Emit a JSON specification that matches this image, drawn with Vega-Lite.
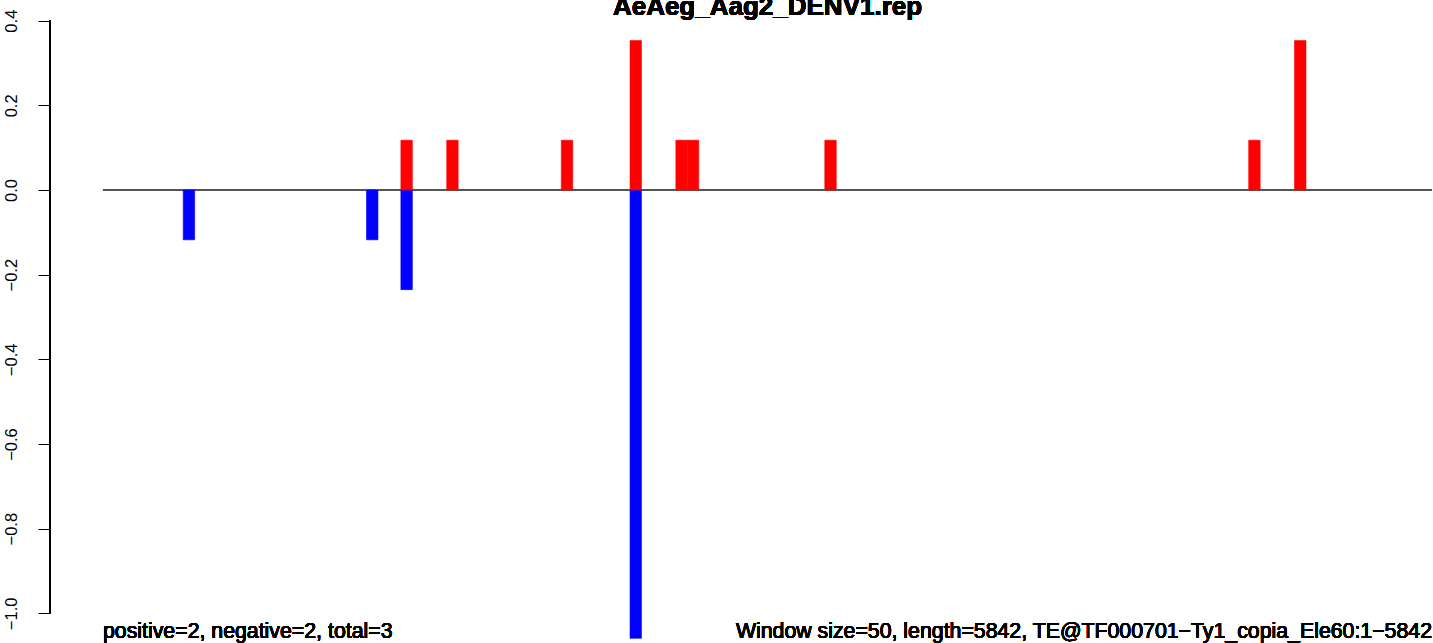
{
  "$schema": "https://vega.github.io/schema/vega-lite/v6.json",
  "width": 1383,
  "height": 643,
  "autosize": {"type": "none"},
  "padding": {"left": 50, "top": 0, "right": 0, "bottom": 0},
  "background": "white",
  "config": {"view": {"stroke": null}, "font": "Liberation Sans"},
  "datasets": {
    "windows": [
      {"start": 350, "end": 400, "strand": "minus", "value": -0.1176},
      {"start": 1150, "end": 1200, "strand": "minus", "value": -0.1176},
      {"start": 1300, "end": 1350, "strand": "minus", "value": -0.2353},
      {"start": 2300, "end": 2350, "strand": "minus", "value": -1.0588},
      {"start": 1300, "end": 1350, "strand": "plus", "value": 0.1176},
      {"start": 1500, "end": 1550, "strand": "plus", "value": 0.1176},
      {"start": 2000, "end": 2050, "strand": "plus", "value": 0.1176},
      {"start": 2300, "end": 2350, "strand": "plus", "value": 0.3529},
      {"start": 2500, "end": 2550, "strand": "plus", "value": 0.1176},
      {"start": 2550, "end": 2600, "strand": "plus", "value": 0.1176},
      {"start": 3150, "end": 3200, "strand": "plus", "value": 0.1176},
      {"start": 5000, "end": 5050, "strand": "plus", "value": 0.1176},
      {"start": 5200, "end": 5250, "strand": "plus", "value": 0.3529}
    ]
  },
  "data": {"name": "windows"},
  "layer": [
    {
      "mark": {"type": "rule", "color": "#555555", "strokeWidth": 1},
      "encoding": {
        "x": {"datum": 0, "type": "quantitative", "scale": {"domain": [-231.3, 5804.35], "nice": false, "zero": false}, "axis": null},
        "x2": {"datum": 5800},
        "y": {"datum": 0, "type": "quantitative", "scale": {"domain": [-1.0699, 0.4488], "nice": false, "zero": false}}
      }
    },
    {
      "mark": {"type": "rule", "color": "black", "strokeWidth": 1},
      "encoding": {
        "x": {"datum": -231.3, "type": "quantitative", "scale": {"domain": [-231.3, 5804.35], "nice": false, "zero": false}, "axis": null},
        "y": {"datum": -1.0, "type": "quantitative", "scale": {"domain": [-1.0699, 0.4488], "nice": false, "zero": false}},
        "y2": {"datum": 0.4}
      }
    },
    {
      "mark": {"type": "bar", "strokeWidth": 0.6},
      "encoding": {
        "x": {"field": "start", "type": "quantitative", "scale": {"domain": [-231.3, 5804.35], "nice": false, "zero": false}, "axis": null},
        "x2": {"field": "end"},
        "y": {
          "field": "value",
          "type": "quantitative",
          "scale": {"domain": [-1.0699, 0.4488], "nice": false, "zero": false},
          "axis": {
            "title": null,
            "domain": false,
            "grid": false,
            "values": [-1.0, -0.8, -0.6, -0.4, -0.2, 0.0, 0.2, 0.4],
            "format": ".1f",
            "tickSize": 12,
            "tickColor": "black",
            "tickWidth": 1,
            "labelAngle": 270,
            "labelAlign": "center",
            "labelBaseline": "alphabetic",
            "labelPadding": 22,
            "labelFont": "Liberation Sans",
            "labelFontSize": 16.5,
            "labelFontWeight": "normal",
            "labelColor": "black",
            "labelOverlap": false,
            "labelFlush": false
          }
        },
        "y2": {"datum": 0},
        "color": {"field": "strand", "type": "nominal", "scale": {"domain": ["plus", "minus"], "range": ["#FF0000", "#0000FF"]}, "legend": null},
        "stroke": {"field": "strand", "type": "nominal", "scale": {"domain": ["plus", "minus"], "range": ["#FF0000", "#0000FF"]}, "legend": null}
      }
    },
    {
      "mark": {"type": "text", "text": "AeAeg_Aag2_DENV1.rep", "align": "center", "baseline": "alphabetic", "font": "Liberation Sans", "fontSize": 26, "fontWeight": "bold", "color": "black"},
      "encoding": {
        "x": {"datum": 2900, "type": "quantitative", "scale": {"domain": [-231.3, 5804.35], "nice": false, "zero": false}, "axis": null},
        "y": {"datum": 0.4133, "type": "quantitative", "scale": {"domain": [-1.0699, 0.4488], "nice": false, "zero": false}}
      }
    },
    {
      "mark": {"type": "text", "text": "positive=2, negative=2, total=3", "align": "left", "baseline": "alphabetic", "font": "Liberation Sans", "fontSize": 21.3, "fontWeight": "normal", "color": "black"},
      "encoding": {
        "x": {"datum": 0, "type": "quantitative", "scale": {"domain": [-231.3, 5804.35], "nice": false, "zero": false}, "axis": null},
        "y": {"datum": -1.0581, "type": "quantitative", "scale": {"domain": [-1.0699, 0.4488], "nice": false, "zero": false}}
      }
    },
    {
      "mark": {"type": "text", "text": "Window size=50, length=5842, TE@TF000701−Ty1_copia_Ele60:1−5842", "align": "right", "baseline": "alphabetic", "font": "Liberation Sans", "fontSize": 21.3, "fontWeight": "normal", "color": "black"},
      "encoding": {
        "x": {"datum": 5800, "type": "quantitative", "scale": {"domain": [-231.3, 5804.35], "nice": false, "zero": false}, "axis": null},
        "y": {"datum": -1.0581, "type": "quantitative", "scale": {"domain": [-1.0699, 0.4488], "nice": false, "zero": false}}
      }
    }
  ]
}
